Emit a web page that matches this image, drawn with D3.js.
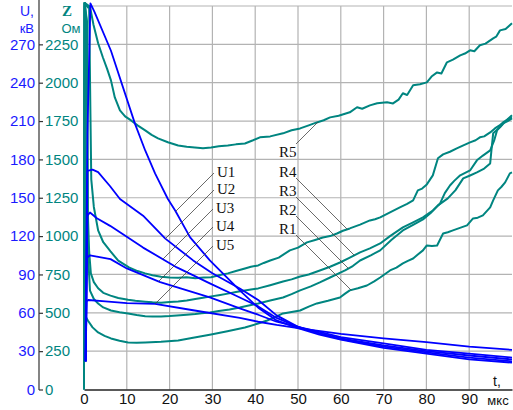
<!DOCTYPE html>
<html>
<head>
<meta charset="utf-8">
<script src="https://cdn.jsdelivr.net/npm/d3@7"></script>
<style>
  body { margin: 0; background: #fff; }
  svg { display: block; }
</style>
</head>
<body>
<svg id="chart" width="513" height="410"></svg>
<script>
// Axis ticks
const timeTicks = [0, 10, 20, 30, 40, 50, 60, 70, 80, 90];
const voltTicks = [0, 30, 60, 90, 120, 150, 180, 210, 240, 270];
const ohmTicks = [0, 250, 500, 750, 1000, 1250, 1500, 1750, 2000, 2250];

// Voltage U(t), [t in µs, U in kV]
const U1 = [[0.3,22],[0.8,200],[1.5,302],[2.5,295],[6.3,265],[11.9,208],[14.3,187],[16.6,169],[19.6,149],[21.3,140],[24.8,119],[29.4,101],[36.4,77.5],[40.7,64],[45,54],[50,48],[55,43],[60,39],[70,32.5],[80,28],[90,23.5],[100,21]];
const U2 = [[0.4,22],[0.8,171],[2,172],[3.3,170],[6.1,159],[8.4,149],[13.8,136],[19,118],[25.5,101],[30,91],[36.4,79],[40.7,70],[45,58],[50,49],[55,44],[60,39.5],[70,33.5],[80,29],[90,25],[100,22]];
const U3 = [[0.4,22],[0.8,136],[1.4,138.5],[3,134],[6.1,128],[13.8,111],[21.7,95.5],[29.4,83],[36.4,72],[40.7,65],[45,56],[50,49],[55,44],[60,40],[70,34.5],[80,30],[90,26.6],[100,23.5]];
const U4 = [[0.4,22],[0.7,103],[1.4,105],[3,104],[6.2,102],[10,94.7],[17.8,84],[29.4,72],[36.4,63.4],[40.7,58.5],[45,53],[50,49],[55,45],[60,41],[70,36],[80,31],[90,28],[100,25]];
const U5 = [[0.4,22],[0.6,69],[1,70],[5,69],[10,67.5],[16.6,67],[25.5,62],[36.4,56],[40.7,53],[45,50.5],[50,48],[60,43.5],[70,40],[80,37],[90,33.6],[100,31]];

// Resistance Z(t), [t in µs, Z in Ohm]
const R5 = [[0,0],[0.15,2520],[0.9,2490],[1.4,2495],[2.2,2380],[3.3,2257],[4.4,2166],[5.4,2090],[6.3,2015],[7.2,1904],[8.4,1820],[9.6,1780],[11,1754],[12.6,1720],[14.3,1689],[15.8,1660],[17.3,1637],[19.6,1612],[22,1591],[24,1582],[25.9,1578],[27.8,1572],[29.7,1578],[31.5,1585],[33.6,1591],[35.5,1598],[37.6,1604],[39.5,1625],[41.1,1644],[43.5,1650],[46.5,1670],[48.5,1690],[50.5,1702],[52.5,1722],[54.4,1741],[56,1755],[57.5,1774],[59.5,1785],[62.1,1807],[63.8,1840],[65,1830],[66.8,1852],[68.5,1866],[70.8,1872],[72.2,1865],[73.5,1890],[74.5,1931],[75.5,1920],[76.9,1983],[78.5,1990],[80.1,2002],[81.2,2040],[82.5,2067],[83.5,2060],[84.8,2133],[86.2,2150],[87.9,2178],[89,2190],[90.2,2211],[91.2,2205],[92.5,2244],[93.8,2255],[95.6,2289],[96.3,2300],[97.2,2341],[98.5,2350],[100,2387]];
const R4 = [[0,0],[0.15,2520],[1.2,2500],[1.5,1800],[1.7,1370],[2.3,1190],[3.3,1037],[4.5,960],[6.2,900],[8,840],[10.5,796],[12.5,772],[14.3,757],[16,745],[18,735],[20,730],[22,728],[24,732],[26,726],[28,730],[29.7,732],[31.5,745],[33.6,757],[35.5,772],[37.6,789],[39,800],[40.7,809],[42,825],[43.5,841],[45.5,860],[48.1,907],[50,925],[52.1,959],[54,975],[55.8,991],[57.5,1000],[59.1,1017],[60.5,1035],[62.1,1050],[64.5,1075],[66.8,1102],[68,1110],[69.2,1122],[71.5,1155],[73.8,1187],[75.5,1210],[76.9,1233],[78,1298],[79,1310],[80.1,1337],[81.5,1396],[82.7,1507],[83.9,1533],[85.5,1550],[87.1,1572],[88.5,1590],[90.2,1611],[91.5,1625],[92.5,1644],[93.5,1650],[94.9,1676],[96,1702],[97,1720],[97.9,1741],[99,1760],[100,1774]];
const R3 = [[0,0],[0.15,2520],[0.7,2400],[0.9,1148],[1.2,900],[1.6,757],[2.3,700],[3.3,660],[4.5,630],[6.2,612],[8,596],[10.3,585],[12,578],[14.3,572],[16,568],[18,566],[20,570],[22,574],[24,580],[26,590],[27.8,598],[29.7,607],[31.5,615],[33.6,625],[35.5,635],[37.6,646],[39,652],[40.7,659],[43.5,680],[46.5,704],[48.5,718],[50.5,737],[52.5,750],[55.1,776],[57.5,800],[59.8,828],[62,858],[64.5,894],[66.8,920],[69.2,952],[71.5,1000],[74.5,1057],[76.9,1090],[79.2,1122],[81.5,1167],[83.2,1213],[84.3,1280],[85.5,1330],[86.5,1360],[87.9,1396],[90.2,1428],[91.8,1494],[93.2,1525],[94.9,1559],[95.8,1620],[96.5,1689],[97.9,1735],[99,1750],[100,1767]];
const R2 = [[0,0],[0.15,2520],[0.6,2400],[0.9,900],[1.4,645],[2.3,590],[3.3,561],[4.5,535],[6.3,515],[8.3,503],[10.3,496],[12.3,486],[14.3,478],[16,476],[18,476],[20,479],[21.7,483],[24,488],[26,492],[27.5,497],[29.4,502],[31.5,512],[34,522],[36.4,535],[38.5,548],[40.7,561],[43.5,580],[46.5,600],[48.5,622],[50.5,646],[53,672],[55.1,698],[57.5,730],[61,776],[62.8,805],[64.5,841],[67,875],[69.2,907],[71.8,975],[74.5,1037],[77,1075],[79.2,1109],[81,1150],[82.7,1200],[85,1246],[86.8,1300],[88.6,1376],[90.2,1395],[91.8,1415],[93.5,1440],[94.9,1474],[95.2,1560],[95.6,1670],[97.2,1709],[98.5,1750],[100,1787]];
const R1 = [[0,0],[0.15,2520],[0.25,483],[0.9,450],[2,405],[3.3,372],[4.8,350],[6.3,333],[8.3,318],[10.3,307],[12.3,305],[14.3,307],[18,312],[22,320],[25.5,338],[29.7,359],[33.5,380],[37.6,404],[40.7,430],[42.8,450],[44.5,470],[46.5,496],[48.5,505],[50.5,515],[52.5,540],[54.4,561],[57,578],[59.8,600],[61,625],[62.1,646],[64,660],[66.1,678],[67.8,705],[69.2,730],[71.5,776],[73,795],[74.5,822],[75.8,840],[76.9,854],[78,880],[79.2,907],[80.1,939],[81.3,935],[82.5,939],[83.9,1017],[85,1025],[86.2,1037],[88,1055],[89.5,1070],[90.9,1115],[92,1120],[93.2,1135],[94.9,1187],[95.6,1233],[96.7,1298],[97.5,1320],[98.4,1350],[99.5,1409],[100,1415]];

const voltNames = ["U1", "U2", "U3", "U4", "U5"];
const ohmNames = ["R1", "R2", "R3", "R4", "R5"];

// ---------------------------------------------------------------
const BLUE = "#0000ff", TEAL = "#008580";
const FONT = "'Liberation Sans', Arial, sans-serif";
const SERIF = "'Liberation Serif', 'Times New Roman', serif";

const svg = d3.select("#chart");
const x = d3.scaleLinear().domain([0, 100]).range([84, 512]);
const yU = d3.scaleLinear().domain([0, 300]).range([389.5, 6]);
const yZ = d3.scaleLinear().domain([0, 2500]).range([389.5, 6]);

// grid
const grid = svg.append("g").attr("stroke", "#b3b3b3").attr("stroke-width", 1.2);
grid.selectAll("line.v").data(timeTicks).join("line")
  .attr("x1", d => x(d)).attr("x2", d => x(d))
  .attr("y1", yU(300)).attr("y2", yU(0));
grid.selectAll("line.h").data(voltTicks.slice(1).concat([300])).join("line")
  .attr("x1", x(0)).attr("x2", x(100))
  .attr("y1", d => yU(d)).attr("y2", d => yU(d));

// bottom axis
const xAxis = svg.append("g").attr("transform", `translate(0,${yU(0)})`)
  .call(d3.axisBottom(x).tickValues(timeTicks).tickSize(0).tickSizeOuter(0).tickPadding(4));
xAxis.select(".domain").attr("stroke", "#222").attr("stroke-width", 1.4);
xAxis.selectAll("text").attr("font-family", FONT).attr("font-size", 15).attr("fill", "#111");

// left axis: a single spine carrying both the kV and the Ohm scales
const spineX = 39;
svg.append("line").attr("x1", spineX).attr("x2", spineX).attr("y1", 0).attr("y2", yU(0) + 0.5)
  .attr("stroke", "#333").attr("stroke-width", 1.2);
const tickAxis = svg.append("g").attr("transform", `translate(${spineX},0)`)
  .call(d3.axisRight(yU).tickValues(voltTicks).tickSize(4).tickFormat(""));
tickAxis.select(".domain").remove();
tickAxis.selectAll("line").attr("stroke", "#333").attr("stroke-width", 1.2);

const kvAxis = svg.append("g").attr("transform", `translate(${spineX - 4},0)`)
  .call(d3.axisLeft(yU).tickValues(voltTicks).tickSize(0).tickPadding(0).tickFormat(d3.format("d")));
kvAxis.select(".domain").remove();
kvAxis.selectAll("text").attr("font-family", FONT).attr("font-size", 15).attr("fill", "#1a1aff");

const ohmAxis = svg.append("g").attr("transform", `translate(${spineX + 6},0)`)
  .call(d3.axisRight(yZ).tickValues(ohmTicks).tickSize(0).tickPadding(0).tickFormat(d3.format("d")));
ohmAxis.select(".domain").remove();
ohmAxis.selectAll("text").attr("font-family", FONT).attr("font-size", 15).attr("fill", TEAL);

// axis titles
svg.append("text").attr("x", 34).attr("y", 16).attr("text-anchor", "end")
  .attr("font-family", FONT).attr("font-size", 14).attr("fill", "#1a1aff").text("U,");
svg.append("text").attr("x", 34).attr("y", 33).attr("text-anchor", "end")
  .attr("font-family", FONT).attr("font-size", 13).attr("fill", "#1a1aff").text("кВ");
svg.append("text").attr("x", 67).attr("y", 16).attr("text-anchor", "middle")
  .attr("font-family", SERIF).attr("font-weight", "bold").attr("font-size", 15).attr("fill", TEAL).text("Z");
svg.append("text").attr("x", 71).attr("y", 33).attr("text-anchor", "middle")
  .attr("font-family", FONT).attr("font-size", 13).attr("fill", TEAL).text("Ом");
svg.append("text").attr("x", 497).attr("y", 386).attr("text-anchor", "middle")
  .attr("font-family", FONT).attr("font-size", 14).attr("fill", "#111").text("t,");
svg.append("text").attr("x", 498).attr("y", 405).attr("text-anchor", "middle")
  .attr("font-family", FONT).attr("font-size", 13).attr("fill", "#111").text("мкс");

// curves
svg.append("clipPath").attr("id", "plot")
  .append("rect").attr("x", 80).attr("y", 0).attr("width", 433).attr("height", yU(0));

const lineU = d3.line().x(d => x(d[0])).y(d => yU(d[1]));
const lineZ = d3.line().x(d => x(d[0])).y(d => yZ(d[1]));

const voltData = [U1, U2, U3, U4, U5];
const ohmData = [R1, R2, R3, R4, R5];

const curves = svg.append("g").attr("clip-path", "url(#plot)").attr("fill", "none")
  .attr("stroke-linejoin", "round");
curves.selectAll("path.z").data(ohmData).join("path").attr("class", "z")
  .attr("d", lineZ).attr("stroke", TEAL).attr("stroke-width", 2);
curves.selectAll("path.u").data(voltData).join("path").attr("class", "u")
  .attr("d", lineU).attr("stroke", BLUE).attr("stroke-width", 1.8);

// leader lines: a 45° line from each label until it meets its curve
function valueAt(data, t) {
  const i = d3.bisector(d => d[0]).right(data, t);
  if (i <= 0) return data[0][1];
  if (i >= data.length) return data[data.length - 1][1];
  const a = data[i - 1], b = data[i];
  return a[1] + (b[1] - a[1]) * (t - a[0]) / (b[0] - a[0]);
}
function leaderEnd(data, yScale, x0, y0, dx, dy) {
  let prev = null;
  for (let s = 0; s < 200; s += 0.25) {
    const px = x0 + dx * s, py = y0 + dy * s;
    const cy = yScale(valueAt(data, x.invert(px)));
    const diff = py - cy;
    if (prev !== null && Math.sign(diff) !== Math.sign(prev)) return [px, py];
    prev = diff;
  }
  return [x0, y0];
}

const voltLabelPos = [[217, 177], [217, 194], [216, 213], [216, 231], [216, 250]];
const ohmLabelPos = [[279, 234], [279, 215], [279, 196], [279, 177], [279, 157]];

const labels = svg.append("g");
voltNames.forEach((name, i) => {
  const [lx, ly] = voltLabelPos[i];
  const sx = lx - 3, sy = ly - 4;
  const [ex, ey] = leaderEnd(voltData[i], yU, sx, sy, -1, 1);
  labels.append("line").attr("x1", sx).attr("y1", sy).attr("x2", ex).attr("y2", ey)
    .attr("stroke", "#444").attr("stroke-width", 0.8);
  labels.append("text").attr("x", lx).attr("y", ly)
    .attr("font-family", SERIF).attr("font-size", 15).attr("fill", "#111").text(name);
});
ohmNames.forEach((name, i) => {
  const [lx, ly] = ohmLabelPos[i];
  const up = name === "R5";
  const sx = lx + 17, sy = up ? ly - 13 : ly + 1;
  const [ex, ey] = leaderEnd(ohmData[i], yZ, sx, sy, 1, up ? -1 : 1);
  labels.append("line").attr("x1", sx).attr("y1", sy).attr("x2", ex).attr("y2", ey)
    .attr("stroke", "#444").attr("stroke-width", 0.8);
  labels.append("text").attr("x", lx).attr("y", ly)
    .attr("font-family", SERIF).attr("font-size", 15).attr("fill", "#111").text(name);
});
</script>
</body>
</html>
